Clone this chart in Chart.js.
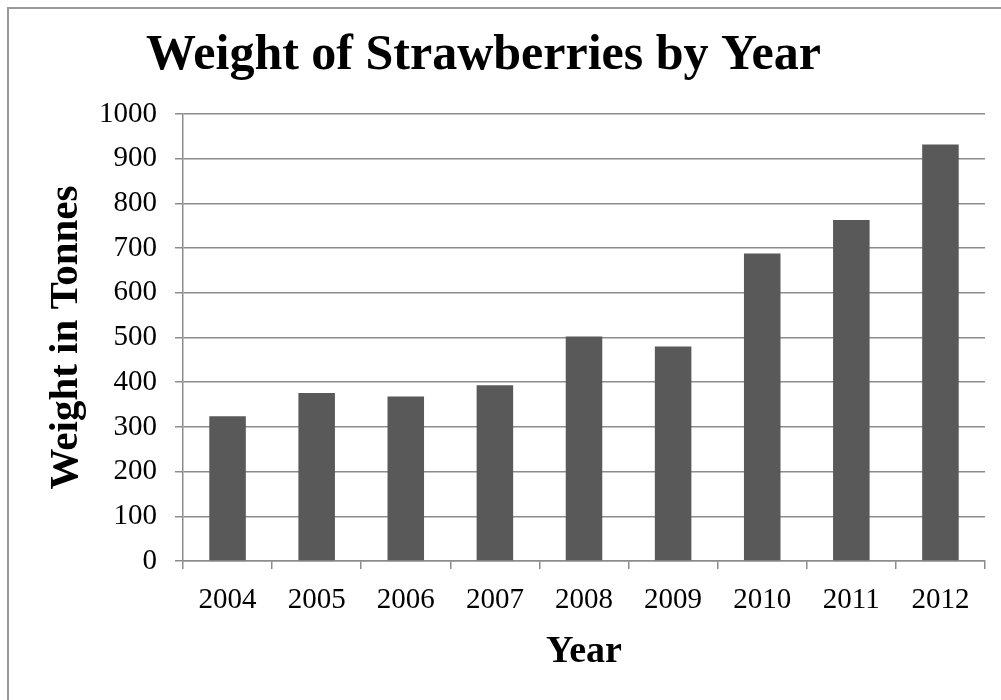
<!DOCTYPE html>
<html>
<head>
<meta charset="utf-8">
<script src="https://cdn.jsdelivr.net/npm/chart.js@4"></script>
<style>
  html, body { margin: 0; padding: 0; background: #fff; overflow: hidden; }
  #wrap { position: relative; width: 1001px; height: 700px; overflow: hidden; }
  #frame { position: absolute; left: 7px; top: 7px; width: 1100px; height: 800px; border: 2px solid #999; box-sizing: border-box; }
  canvas { position: absolute; left: 0; top: 0; }
</style>
</head>
<body>
<div id="wrap">
  <div id="frame"></div>
  <canvas id="chart" width="1001" height="700"></canvas>
</div>
<script>
const years = ["2004", "2005", "2006", "2007", "2008", "2009", "2010", "2011", "2012"];
const weights = [324, 376, 368, 393, 502, 480, 688, 763, 932];
const yMin = 0;
const yMax = 1000;
const yStep = 100;

const serif = "'Liberation Serif', 'Times New Roman', serif";
const gridGrey = "#8c8c8c";

const ctx = document.getElementById("chart").getContext("2d");

// negative left padding shifts the title centre to match the original
const chart = new Chart(ctx, {
  type: "bar",
  data: {
    labels: years,
    datasets: [{
      label: "Weight in Tonnes",
      data: weights,
      backgroundColor: "#595959",
      barPercentage: 0.41,
      categoryPercentage: 1.0
    }]
  },
  options: {
    responsive: false,
    animation: false,
    layout: { padding: { left: -18, right: 16, top: 0, bottom: 0 } },
    plugins: {
      legend: { display: false },
      tooltip: { enabled: false },
      title: {
        display: true,
        text: "Weight of Strawberries by Year",
        color: "#000",
        font: { family: serif, size: 50, weight: "bold", lineHeight: 1.2 },
        padding: { top: 26.2, bottom: 27.8 }
      }
    },
    scales: {
      x: {
        offset: true,
        grid: { drawOnChartArea: false, drawTicks: true, tickLength: 8, color: gridGrey, lineWidth: 1.5, offset: true },
        border: { color: gridGrey, width: 1.5 },
        ticks: { color: "#000", font: { family: serif, size: 29 }, padding: 14, maxRotation: 0 },
        title: {
          display: true,
          text: "Year",
          color: "#000",
          font: { family: serif, size: 38, weight: "bold", lineHeight: 1.2 },
          padding: { top: 0, bottom: 24.8 }
        },
        afterFit: scale => { scale.height = 139; }
      },
      y: {
        min: yMin,
        max: yMax,
        ticks: {
          stepSize: yStep,
          color: "#000",
          font: { family: serif, size: 29 },
          padding: 18,
          callback: v => String(v)
        },
        grid: { color: gridGrey, lineWidth: 1.5, tickLength: 8 },
        border: { color: gridGrey, width: 1.5 },
        title: {
          display: true,
          text: "Weight in Tonnes",
          color: "#000",
          font: { family: serif, size: 41, weight: "bold", lineHeight: 1.2 },
          padding: { top: 59.4, bottom: 0 }
        },
        afterFit: scale => { scale.width = 201; }
      }
    }
  }
});
</script>
</body>
</html>
